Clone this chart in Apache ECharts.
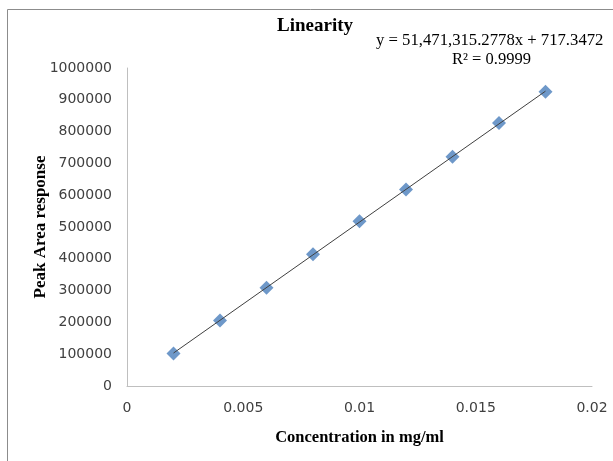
<!DOCTYPE html>
<html>
<head>
<meta charset="utf-8">
<script src="https://cdn.jsdelivr.net/npm/echarts@6/dist/echarts.min.js"></script>
<style>html,body{margin:0;padding:0;background:#fff;}#c{width:613px;height:461px;}</style>
</head>
<body>
<div id="c"></div>
<script>
var concentrations = [0.002, 0.004, 0.006, 0.008, 0.010, 0.012, 0.014, 0.016, 0.018];
var peakAreas = [102000, 206000, 309000, 414000, 518000, 618000, 721000, 827000, 925000];
var slope = 51471315.2778;
var intercept = 717.3472;
var trendX = [0.002, 0.018];
var titleText = 'Linearity';
var equationText = 'y = 51,471,315.2778x + 717.3472';
var r2Text = 'R² = 0.9999';

var chart = echarts.init(document.getElementById('c'));
var scatterData = concentrations.map(function (x, i) { return [x, peakAreas[i]]; });
var trendData = trendX.map(function (x) { return [x, slope * x + intercept]; });

chart.setOption({
  animation: false,
  backgroundColor: '#fff',
  graphic: [
    { type: 'rect', shape: { x: 7.5, y: 9.5, width: 700, height: 600 }, style: { fill: 'none', stroke: '#8c8c8c', lineWidth: 1 }, z: -1 },
    { type: 'text', left: 376, top: 32, style: { text: equationText, font: '16.7px "Liberation Serif"', fill: '#000' } },
    { type: 'text', left: 452, top: 51, style: { text: r2Text, font: '16.5px "Liberation Serif"', fill: '#000' } },
    { type: 'text', left: 277, top: 17, style: { text: titleText, font: 'bold 19px "Liberation Serif"', fill: '#000' } }
  ],
  grid: { left: 127, right: 21, top: 68, bottom: 75, containLabel: false },
  xAxis: {
    type: 'value', min: 0, max: 0.02, interval: 0.005,
    name: 'Concentration in mg/ml', nameLocation: 'middle', nameGap: 43, nameMoveOverlap: false,
    nameTextStyle: { fontFamily: 'Liberation Serif', fontWeight: 'bold', fontSize: 16.5, color: '#000' },
    axisLine: { show: true, lineStyle: { color: '#bfbfbf', width: 1 } },
    axisTick: { show: false }, splitLine: { show: false },
    axisLabel: { margin: 15, fontFamily: 'DejaVu Sans', fontSize: 14, color: '#404040',
      formatter: function (v) { return String(+v.toFixed(4)); } }
  },
  yAxis: {
    type: 'value', min: 0, max: 1000000, interval: 100000,
    name: 'Peak Area response', nameLocation: 'middle', nameGap: 78, nameMoveOverlap: false,
    nameTextStyle: { fontFamily: 'Liberation Serif', fontWeight: 'bold', fontSize: 17, color: '#000' },
    axisLine: { show: true, lineStyle: { color: '#bfbfbf', width: 1 } },
    axisTick: { show: false }, splitLine: { show: false },
    axisLabel: { margin: 15, fontFamily: 'DejaVu Sans', fontSize: 14, color: '#404040',
      formatter: function (v) { return String(v); } }
  },
  series: [
    { type: 'scatter', data: scatterData, symbol: 'diamond', symbolSize: 14,
      itemStyle: { color: '#4a7ebb' }, z: 2 },
    { type: 'line', data: trendData, showSymbol: false, symbol: 'none',
      lineStyle: { color: '#404040', width: 1 }, z: 3 }
  ]
});
</script>
</body>
</html>
